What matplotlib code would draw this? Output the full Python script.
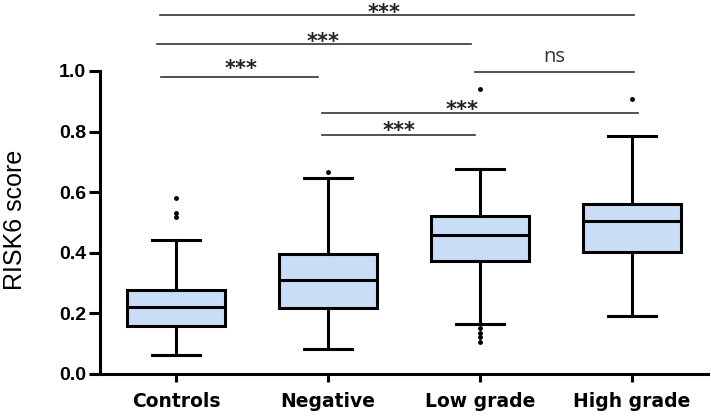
import numpy as np
import matplotlib.pyplot as plt

# Group summary values
groups = ['Controls', 'Negative', 'Low grade', 'High grade']
whislo = [0.063, 0.082, 0.165, 0.191]
q1 = [0.158, 0.218, 0.373, 0.403]
med = [0.221, 0.310, 0.459, 0.505]
q3 = [0.277, 0.396, 0.522, 0.561]
whishi = [0.442, 0.647, 0.677, 0.785]
fliers = [[0.518, 0.531, 0.581], [0.667], [0.106, 0.122, 0.135, 0.152, 0.940], [0.908]]

# Significance brackets
sig_x0 = [-0.105, -0.125, -0.10, 1.967, 0.96, 0.96]
sig_x1 = [3.013, 1.94, 0.934, 3.013, 3.04, 1.967]
sig_y = [1.185, 1.089, 0.980, 0.997, 0.861, 0.789]
sig_text = ['***', '***', '***', 'ns', '***', '***']
sig_tx = [1.37, 0.97, 0.43, 2.49, 1.88, 1.47]
sig_ty = [1.211, 1.116, 1.026, 1.046, 0.891, 0.822]  # centre of the label glyphs

stats = []
for i, g in enumerate(groups):
    stats.append(dict(label=g, whislo=whislo[i], q1=q1[i], med=med[i],
                      q3=q3[i], whishi=whishi[i], fliers=fliers[i]))

fig = plt.figure(figsize=(7.11, 4.18), dpi=100)
ax = fig.add_axes([0.1406, 0.1053, 0.8552, 0.8947])

lw = 2.2
ax.bxp(stats, positions=range(4), widths=0.65, patch_artist=True,
       boxprops=dict(facecolor='#c9def6', edgecolor='black', linewidth=lw),
       medianprops=dict(color='black', linewidth=lw),
       whiskerprops=dict(color='black', linewidth=lw),
       capprops=dict(color='black', linewidth=lw), capwidths=0.32,
       flierprops=dict(marker='o', markersize=2.5, markerfacecolor='black',
                       markeredgecolor='black'))

for x0, x1, y, t, tx, ty in zip(sig_x0, sig_x1, sig_y, sig_text, sig_tx, sig_ty):
    ax.plot([x0, x1], [y, y], color='#333333', linewidth=1.2, clip_on=False)
    if t == 'ns':
        ax.text(tx, ty - 0.018, t, ha='center', va='baseline', fontsize=14.5,
                family='Open Sans', color='#333333')
    else:
        ax.text(tx, ty - 0.04, t, ha='center', va='baseline', fontsize=15,
                fontweight='bold', color='#222222')

ax.set_xlim(-0.5, 3.5)
ax.set_ylim(0, 1.234)
ax.set_yticks([0.0, 0.2, 0.4, 0.6, 0.8, 1.0])
ax.set_yticklabels(['0.0', '0.2', '0.4', '0.6', '0.8', '1.0'], fontweight='bold',
                   fontsize=14, family='Liberation Sans')
ax.set_xticks(range(4))
ax.set_xticklabels(groups, fontweight='bold', fontsize=13.5)
ax.set_ylabel('RISK6 score', fontsize=18, family='Liberation Sans')
ax.yaxis.set_label_coords(-0.12, 0.413)

for s in ['top', 'right']:
    ax.spines[s].set_visible(False)
ax.spines['left'].set_bounds(0, 1.0)
ax.spines['left'].set_linewidth(lw)
ax.spines['bottom'].set_linewidth(lw)
ax.tick_params(axis='both', width=lw)
ax.tick_params(axis='y', length=8, pad=2)
ax.tick_params(axis='x', length=6, pad=7)

fig.savefig('out.png', dpi=100)
